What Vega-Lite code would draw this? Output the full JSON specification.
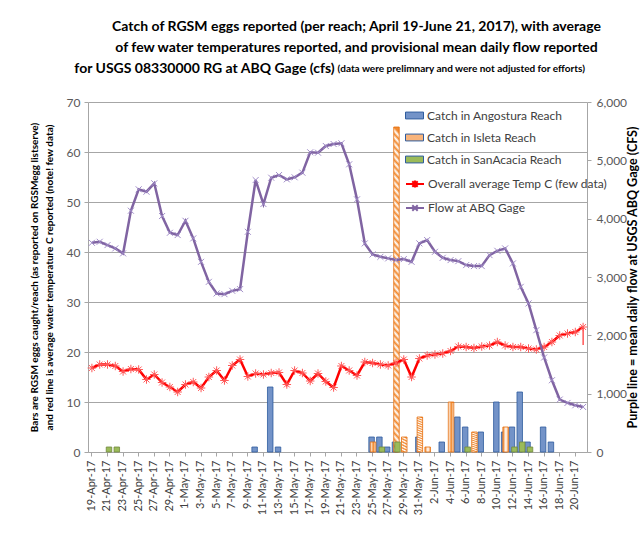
{
  "$schema": "https://vega.github.io/schema/vega-lite/v6.json",
  "width": 499,
  "height": 350,
  "autosize": {"type": "none"},
  "padding": {"left": 88, "top": 102, "right": 57, "bottom": 108},
  "background": "white",
  "config": {
    "view": {"stroke": null},
    "font": "Lato",
    "legend": {"labelFont": "Lato", "labelFontSize": 12, "labelColor": "#404040", "labelLimit": 300, "padding": 0}
  },
  "title": {
    "text": [
      "Catch of RGSM eggs reported (per reach; April 19-June 21, 2017), with average",
      "of few water temperatures reported, and provisional mean daily flow reported",
      "for USGS 08330000 RG at ABQ Gage (cfs)\u2003\u2003\u2003\u2003\u2003\u2003\u2003\u2003\u2003\u2003\u2003\u2003\u2003\u2003\u2003\u2003\u2003\u2003\u2003\u2003\u2003\u2003\u2003\u2003\u2003\u2003\u2003\u2003\u2800"
    ],
    "subtitle": "\u2800\u2003\u2003\u2003\u2003\u2003\u2003\u2003\u2003\u2003\u2003\u2003\u2003\u2003\u2003\u2003\u2003\u2003\u2003\u2003\u2003\u2003\u2003\u2003\u2003\u2003\u2003\u2003(data were prelimnary and were not adjusted for efforts)",
    "font": "Lato",
    "fontSize": 14,
    "fontWeight": "bold",
    "lineHeight": 21,
    "color": "#000000",
    "subtitleFont": "Lato",
    "subtitleFontSize": 10,
    "subtitleFontWeight": "bold",
    "subtitleColor": "#000000",
    "subtitlePadding": -12,
    "anchor": "middle",
    "dx": 19,
    "offset": 20
  },
  "datasets": {
    "bars": [
      {"date": "21-Apr-17", "reach": "SanAcacia", "eggs": 1},
      {"date": "22-Apr-17", "reach": "SanAcacia", "eggs": 1},
      {"date": "10-May-17", "reach": "Angostura", "eggs": 1},
      {"date": "12-May-17", "reach": "Angostura", "eggs": 13},
      {"date": "13-May-17", "reach": "Angostura", "eggs": 1},
      {"date": "25-May-17", "reach": "Angostura", "eggs": 3},
      {"date": "25-May-17", "reach": "Isleta", "eggs": 2},
      {"date": "26-May-17", "reach": "Angostura", "eggs": 3},
      {"date": "26-May-17", "reach": "SanAcacia", "eggs": 1},
      {"date": "27-May-17", "reach": "Angostura", "eggs": 1},
      {"date": "28-May-17", "reach": "Angostura", "eggs": 2},
      {"date": "28-May-17", "reach": "Isleta", "eggs": 65},
      {"date": "28-May-17", "reach": "SanAcacia", "eggs": 2},
      {"date": "29-May-17", "reach": "Isleta", "eggs": 3},
      {"date": "31-May-17", "reach": "Angostura", "eggs": 3},
      {"date": "31-May-17", "reach": "Isleta", "eggs": 7},
      {"date": "1-Jun-17", "reach": "Isleta", "eggs": 1},
      {"date": "3-Jun-17", "reach": "Angostura", "eggs": 2},
      {"date": "4-Jun-17", "reach": "Isleta", "eggs": 10},
      {"date": "5-Jun-17", "reach": "Angostura", "eggs": 7},
      {"date": "6-Jun-17", "reach": "Angostura", "eggs": 5},
      {"date": "6-Jun-17", "reach": "SanAcacia", "eggs": 1},
      {"date": "7-Jun-17", "reach": "Isleta", "eggs": 4},
      {"date": "8-Jun-17", "reach": "Angostura", "eggs": 4},
      {"date": "10-Jun-17", "reach": "Angostura", "eggs": 10},
      {"date": "11-Jun-17", "reach": "Angostura", "eggs": 4},
      {"date": "11-Jun-17", "reach": "Isleta", "eggs": 5},
      {"date": "12-Jun-17", "reach": "Angostura", "eggs": 5},
      {"date": "12-Jun-17", "reach": "SanAcacia", "eggs": 1},
      {"date": "13-Jun-17", "reach": "Angostura", "eggs": 12},
      {"date": "13-Jun-17", "reach": "SanAcacia", "eggs": 2},
      {"date": "14-Jun-17", "reach": "Angostura", "eggs": 2},
      {"date": "14-Jun-17", "reach": "SanAcacia", "eggs": 1},
      {"date": "16-Jun-17", "reach": "Angostura", "eggs": 5},
      {"date": "17-Jun-17", "reach": "Angostura", "eggs": 2}
    ],
    "tempRange": [
      {"date": "21-Jun-17", "low": 21.4, "high": 25.0}
    ],
    "daily": [
      {"date": "19-Apr-17", "tempC": 16.8, "flowCfs": 3586},
      {"date": "20-Apr-17", "tempC": 17.5, "flowCfs": 3604},
      {"date": "21-Apr-17", "tempC": 17.5, "flowCfs": 3547},
      {"date": "22-Apr-17", "tempC": 17.2, "flowCfs": 3490},
      {"date": "23-Apr-17", "tempC": 16.1, "flowCfs": 3405},
      {"date": "24-Apr-17", "tempC": 16.6, "flowCfs": 4136},
      {"date": "25-Apr-17", "tempC": 16.5, "flowCfs": 4503},
      {"date": "26-Apr-17", "tempC": 14.5, "flowCfs": 4462},
      {"date": "27-Apr-17", "tempC": 15.5, "flowCfs": 4606},
      {"date": "28-Apr-17", "tempC": 13.9, "flowCfs": 4045},
      {"date": "29-Apr-17", "tempC": 13.0, "flowCfs": 3758},
      {"date": "30-Apr-17", "tempC": 12.0, "flowCfs": 3719},
      {"date": "1-May-17", "tempC": 13.5, "flowCfs": 3964},
      {"date": "2-May-17", "tempC": 14.0, "flowCfs": 3662},
      {"date": "3-May-17", "tempC": 12.8, "flowCfs": 3260},
      {"date": "4-May-17", "tempC": 15.0, "flowCfs": 2917},
      {"date": "5-May-17", "tempC": 16.3, "flowCfs": 2718},
      {"date": "6-May-17", "tempC": 14.3, "flowCfs": 2706},
      {"date": "7-May-17", "tempC": 17.3, "flowCfs": 2763},
      {"date": "8-May-17", "tempC": 18.5, "flowCfs": 2792},
      {"date": "9-May-17", "tempC": 15.1, "flowCfs": 3775},
      {"date": "10-May-17", "tempC": 15.7, "flowCfs": 4662},
      {"date": "11-May-17", "tempC": 15.5, "flowCfs": 4251},
      {"date": "12-May-17", "tempC": 15.8, "flowCfs": 4702},
      {"date": "13-May-17", "tempC": 15.9, "flowCfs": 4748},
      {"date": "14-May-17", "tempC": 13.5, "flowCfs": 4674},
      {"date": "15-May-17", "tempC": 16.3, "flowCfs": 4709},
      {"date": "16-May-17", "tempC": 15.8, "flowCfs": 4788},
      {"date": "17-May-17", "tempC": 14.2, "flowCfs": 5138},
      {"date": "18-May-17", "tempC": 15.7, "flowCfs": 5131},
      {"date": "19-May-17", "tempC": 14.1, "flowCfs": 5246},
      {"date": "20-May-17", "tempC": 12.9, "flowCfs": 5280},
      {"date": "21-May-17", "tempC": 17.2, "flowCfs": 5292},
      {"date": "22-May-17", "tempC": 16.3, "flowCfs": 4932},
      {"date": "23-May-17", "tempC": 15.3, "flowCfs": 4331},
      {"date": "24-May-17", "tempC": 18.0, "flowCfs": 3576},
      {"date": "25-May-17", "tempC": 17.8, "flowCfs": 3387},
      {"date": "26-May-17", "tempC": 17.5, "flowCfs": 3346},
      {"date": "27-May-17", "tempC": 17.3, "flowCfs": 3319},
      {"date": "28-May-17", "tempC": 17.8, "flowCfs": 3290},
      {"date": "29-May-17", "tempC": 18.5, "flowCfs": 3307},
      {"date": "30-May-17", "tempC": 15.0, "flowCfs": 3260},
      {"date": "31-May-17", "tempC": 18.7, "flowCfs": 3576},
      {"date": "1-Jun-17", "tempC": 19.3, "flowCfs": 3633},
      {"date": "2-Jun-17", "tempC": 19.5, "flowCfs": 3432},
      {"date": "3-Jun-17", "tempC": 19.7, "flowCfs": 3329},
      {"date": "4-Jun-17", "tempC": 20.2, "flowCfs": 3290},
      {"date": "5-Jun-17", "tempC": 21.1, "flowCfs": 3272},
      {"date": "6-Jun-17", "tempC": 21.0, "flowCfs": 3204},
      {"date": "7-Jun-17", "tempC": 20.8, "flowCfs": 3187},
      {"date": "8-Jun-17", "tempC": 21.1, "flowCfs": 3187},
      {"date": "9-Jun-17", "tempC": 21.3, "flowCfs": 3375},
      {"date": "10-Jun-17", "tempC": 22.0, "flowCfs": 3449},
      {"date": "11-Jun-17", "tempC": 21.3, "flowCfs": 3490},
      {"date": "12-Jun-17", "tempC": 21.0, "flowCfs": 3233},
      {"date": "13-Jun-17", "tempC": 21.0, "flowCfs": 2831},
      {"date": "14-Jun-17", "tempC": 20.7, "flowCfs": 2547},
      {"date": "15-Jun-17", "tempC": 20.5, "flowCfs": 2088},
      {"date": "16-Jun-17", "tempC": 21.0, "flowCfs": 1620},
      {"date": "17-Jun-17", "tempC": 22.0, "flowCfs": 1230},
      {"date": "18-Jun-17", "tempC": 23.3, "flowCfs": 899},
      {"date": "19-Jun-17", "tempC": 23.7, "flowCfs": 841},
      {"date": "20-Jun-17", "tempC": 24.0, "flowCfs": 801},
      {"date": "21-Jun-17", "tempC": 25.0, "flowCfs": 772}
    ]
  },
  "encoding": {
    "x": {
      "field": "date",
      "type": "ordinal",
      "scale": {
        "domain": ["19-Apr-17","20-Apr-17","21-Apr-17","22-Apr-17","23-Apr-17","24-Apr-17","25-Apr-17","26-Apr-17","27-Apr-17","28-Apr-17","29-Apr-17","30-Apr-17","1-May-17","2-May-17","3-May-17","4-May-17","5-May-17","6-May-17","7-May-17","8-May-17","9-May-17","10-May-17","11-May-17","12-May-17","13-May-17","14-May-17","15-May-17","16-May-17","17-May-17","18-May-17","19-May-17","20-May-17","21-May-17","22-May-17","23-May-17","24-May-17","25-May-17","26-May-17","27-May-17","28-May-17","29-May-17","30-May-17","31-May-17","1-Jun-17","2-Jun-17","3-Jun-17","4-Jun-17","5-Jun-17","6-Jun-17","7-Jun-17","8-Jun-17","9-Jun-17","10-Jun-17","11-Jun-17","12-Jun-17","13-Jun-17","14-Jun-17","15-Jun-17","16-Jun-17","17-Jun-17","18-Jun-17","19-Jun-17","20-Jun-17","21-Jun-17"],
        "paddingInner": 0,
        "paddingOuter": 0
      },
      "axis": {
        "values": ["19-Apr-17","21-Apr-17","23-Apr-17","25-Apr-17","27-Apr-17","29-Apr-17","1-May-17","3-May-17","5-May-17","7-May-17","9-May-17","11-May-17","13-May-17","15-May-17","17-May-17","19-May-17","21-May-17","23-May-17","25-May-17","27-May-17","29-May-17","31-May-17","2-Jun-17","4-Jun-17","6-Jun-17","8-Jun-17","10-Jun-17","12-Jun-17","14-Jun-17","16-Jun-17","18-Jun-17","20-Jun-17"],
        "title": null,
        "labelAngle": 270,
        "labelAlign": "right",
        "labelBaseline": "middle",
        "labelFont": "Lato",
        "labelFontSize": 11,
        "labelColor": "#404040",
        "labelPadding": 4,
        "tickSize": 4,
        "tickColor": "#A6A6A6",
        "domainColor": "#A6A6A6",
        "grid": false
      }
    }
  },
  "layer": [
    {
      "layer": [
        {
          "data": {"name": "bars"},
          "encoding": {
            "y": {
              "field": "eggs",
              "type": "quantitative",
              "scale": {"domain": [0, 70]},
              "title": ["Bars are RGSM eggs caught/reach (as reported on RGSMegg listserve)", "and red line is average water temperature C reported (note! few data)"],
              "axis": {
                "values": [0, 5, 10, 15, 20, 25, 30, 35, 40, 45, 50, 55, 60, 65, 70],
                "titleFont": "Lato",
                "titleFontSize": 10,
                "titleFontWeight": "bold",
                "titleColor": "#000000",
                "titleLineHeight": 15,
                "titlePadding": 12,
                "labelFont": "Lato",
                "labelFontSize": 12,
                "labelColor": "#595959",
                "labelPadding": 4,
                "tickSize": 4,
                "tickColor": "#A6A6A6",
                "domainColor": "#A6A6A6",
                "grid": true,
                "gridColor": "#A6A6A6"
              }
            }
          },
          "layer": [
            {
              "transform": [{"filter": "datum.reach === 'Angostura'"}],
              "mark": {"type": "bar", "width": 5.5, "xOffset": -1, "stroke": "#2E5C9E", "strokeWidth": 0.8},
              "encoding": {
                "fill": {
                  "field": "reach",
                  "type": "nominal",
                  "scale": {"domain": ["Angostura", "Isleta", "SanAcacia"], "range": ["#7393C8", "#F8B47C", "#9BBB59"]},
                  "legend": {
                    "orient": "none",
                    "legendX": 317,
                    "legendY": 4,
                    "title": null,
                    "symbolType": "M-1,-0.38H1V0.38H-1Z",
                    "symbolSize": 324,
                    "symbolStrokeWidth": 1,
                    "rowPadding": 6,
                    "labelOffset": 3,
                    "labelExpr": "'Catch in ' + datum.label + ' Reach'",
                    "encode": {
                      "symbols": {
                        "update": {
                          "stroke": {"signal": "datum.value === 'Angostura' ? '#2E5C9E' : datum.value === 'Isleta' ? '#E46C0A' : '#71893F'"},
                          "opacity": {"value": 1}
                        }
                      }
                    }
                  }
                }
              }
            },
            {
              "transform": [{"filter": "datum.reach === 'Isleta'"}],
              "mark": {
                "type": "bar", "width": 5.5, "xOffset": 0.5, "stroke": "#E46C0A", "strokeWidth": 0.8,
                "fill": {"gradient": "linear", "x1": 0, "y1": 1, "x2": 0.0185, "y2": 0, "stops": [
                  {"offset": 0, "color": "#F28A30"},{"offset": 0.01, "color": "#FFFFFF"},{"offset": 0.02, "color": "#F28A30"},{"offset": 0.03, "color": "#FFFFFF"},{"offset": 0.04, "color": "#F28A30"},{"offset": 0.05, "color": "#FFFFFF"},{"offset": 0.06, "color": "#F28A30"},{"offset": 0.07, "color": "#FFFFFF"},{"offset": 0.08, "color": "#F28A30"},{"offset": 0.09, "color": "#FFFFFF"},
                  {"offset": 0.10, "color": "#F28A30"},{"offset": 0.11, "color": "#FFFFFF"},{"offset": 0.12, "color": "#F28A30"},{"offset": 0.13, "color": "#FFFFFF"},{"offset": 0.14, "color": "#F28A30"},{"offset": 0.15, "color": "#FFFFFF"},{"offset": 0.16, "color": "#F28A30"},{"offset": 0.17, "color": "#FFFFFF"},{"offset": 0.18, "color": "#F28A30"},{"offset": 0.19, "color": "#FFFFFF"},
                  {"offset": 0.20, "color": "#F28A30"},{"offset": 0.21, "color": "#FFFFFF"},{"offset": 0.22, "color": "#F28A30"},{"offset": 0.23, "color": "#FFFFFF"},{"offset": 0.24, "color": "#F28A30"},{"offset": 0.25, "color": "#FFFFFF"},{"offset": 0.26, "color": "#F28A30"},{"offset": 0.27, "color": "#FFFFFF"},{"offset": 0.28, "color": "#F28A30"},{"offset": 0.29, "color": "#FFFFFF"},
                  {"offset": 0.30, "color": "#F28A30"},{"offset": 0.31, "color": "#FFFFFF"},{"offset": 0.32, "color": "#F28A30"},{"offset": 0.33, "color": "#FFFFFF"},{"offset": 0.34, "color": "#F28A30"},{"offset": 0.35, "color": "#FFFFFF"},{"offset": 0.36, "color": "#F28A30"},{"offset": 0.37, "color": "#FFFFFF"},{"offset": 0.38, "color": "#F28A30"},{"offset": 0.39, "color": "#FFFFFF"},
                  {"offset": 0.40, "color": "#F28A30"},{"offset": 0.41, "color": "#FFFFFF"},{"offset": 0.42, "color": "#F28A30"},{"offset": 0.43, "color": "#FFFFFF"},{"offset": 0.44, "color": "#F28A30"},{"offset": 0.45, "color": "#FFFFFF"},{"offset": 0.46, "color": "#F28A30"},{"offset": 0.47, "color": "#FFFFFF"},{"offset": 0.48, "color": "#F28A30"},{"offset": 0.49, "color": "#FFFFFF"},
                  {"offset": 0.50, "color": "#F28A30"},{"offset": 0.51, "color": "#FFFFFF"},{"offset": 0.52, "color": "#F28A30"},{"offset": 0.53, "color": "#FFFFFF"},{"offset": 0.54, "color": "#F28A30"},{"offset": 0.55, "color": "#FFFFFF"},{"offset": 0.56, "color": "#F28A30"},{"offset": 0.57, "color": "#FFFFFF"},{"offset": 0.58, "color": "#F28A30"},{"offset": 0.59, "color": "#FFFFFF"},
                  {"offset": 0.60, "color": "#F28A30"},{"offset": 0.61, "color": "#FFFFFF"},{"offset": 0.62, "color": "#F28A30"},{"offset": 0.63, "color": "#FFFFFF"},{"offset": 0.64, "color": "#F28A30"},{"offset": 0.65, "color": "#FFFFFF"},{"offset": 0.66, "color": "#F28A30"},{"offset": 0.67, "color": "#FFFFFF"},{"offset": 0.68, "color": "#F28A30"},{"offset": 0.69, "color": "#FFFFFF"},
                  {"offset": 0.70, "color": "#F28A30"},{"offset": 0.71, "color": "#FFFFFF"},{"offset": 0.72, "color": "#F28A30"},{"offset": 0.73, "color": "#FFFFFF"},{"offset": 0.74, "color": "#F28A30"},{"offset": 0.75, "color": "#FFFFFF"},{"offset": 0.76, "color": "#F28A30"},{"offset": 0.77, "color": "#FFFFFF"},{"offset": 0.78, "color": "#F28A30"},{"offset": 0.79, "color": "#FFFFFF"},
                  {"offset": 0.80, "color": "#F28A30"},{"offset": 0.81, "color": "#FFFFFF"},{"offset": 0.82, "color": "#F28A30"},{"offset": 0.83, "color": "#FFFFFF"},{"offset": 0.84, "color": "#F28A30"},{"offset": 0.85, "color": "#FFFFFF"},{"offset": 0.86, "color": "#F28A30"},{"offset": 0.87, "color": "#FFFFFF"},{"offset": 0.88, "color": "#F28A30"},{"offset": 0.89, "color": "#FFFFFF"},
                  {"offset": 0.90, "color": "#F28A30"},{"offset": 0.91, "color": "#FFFFFF"},{"offset": 0.92, "color": "#F28A30"},{"offset": 0.93, "color": "#FFFFFF"},{"offset": 0.94, "color": "#F28A30"},{"offset": 0.95, "color": "#FFFFFF"},{"offset": 0.96, "color": "#F28A30"},{"offset": 0.97, "color": "#FFFFFF"},{"offset": 0.98, "color": "#F28A30"},{"offset": 0.99, "color": "#FFFFFF"},
                  {"offset": 1, "color": "#F28A30"}
                ]}
              }
            },
            {
              "transform": [{"filter": "datum.reach === 'SanAcacia'"}],
              "mark": {"type": "bar", "width": 5.5, "xOffset": 1.5, "stroke": "#71893F", "strokeWidth": 0.8},
              "encoding": {
                "fill": {"field": "reach", "type": "nominal"}
              }
            }
          ]
        },
        {
          "data": {"name": "tempRange"},
          "mark": {"type": "rule", "stroke": "#FF0000", "strokeWidth": 1},
          "encoding": {
            "y": {"field": "low", "type": "quantitative", "scale": {"domain": [0, 70]}},
            "y2": {"field": "high"}
          }
        },
        {
          "data": {"name": "daily"},
          "mark": {"type": "line", "strokeWidth": 2.5},
          "encoding": {
            "y": {"field": "tempC", "type": "quantitative", "scale": {"domain": [0, 70]}},
            "stroke": {
              "datum": "Overall average Temp C (few data)",
              "scale": {"domain": ["Overall average Temp C (few data)", "Flow at ABQ Gage"], "range": ["#FF0000", "#8064A2"]},
              "legend": {
                "orient": "none",
                "legendX": 317,
                "legendY": 72,
                "title": null,
                "symbolSize": 324,
                "symbolStrokeWidth": 2,
                "rowPadding": 6,
                "labelOffset": 3,
                "encode": {
                  "symbols": {
                    "update": {
                      "shape": {"signal": "datum.value === 'Flow at ABQ Gage' ? 'M-1,0H1M-0.3,-0.3L0.3,0.3M-0.3,0.3L0.3,-0.3' : 'M-1,0H1M-0.3,-0.3L0.3,0.3M-0.3,0.3L0.3,-0.3M0,-0.4V0.4'"},
                      "fill": {"value": "transparent"},
                      "strokeWidth": {"value": 2}
                    }
                  }
                }
              }
            }
          }
        },
        {
          "data": {"name": "daily"},
          "mark": {"type": "point", "shape": "M-1,0L1,0M0,-1L0,1M-0.7,-0.7L0.7,0.7M-0.7,0.7L0.7,-0.7", "size": 72, "filled": false, "stroke": "#FF5A5A", "strokeWidth": 1, "opacity": 1},
          "encoding": {
            "y": {"field": "tempC", "type": "quantitative", "scale": {"domain": [0, 70]}}
          }
        }
      ]
    },
    {
      "layer": [
        {
          "data": {"name": "daily"},
          "mark": {"type": "line", "strokeWidth": 2.5},
          "encoding": {
            "y": {
              "field": "flowCfs",
              "type": "quantitative",
              "scale": {"domain": [0, 6000]},
              "title": "Purple line = mean daily flow at USGS ABQ Gage (CFS)",
              "axis": {
                "orient": "right",
                "values": [0, 1000, 2000, 3000, 4000, 5000, 6000],
                "labelExpr": "format(datum.value, ',')",
                "titleFont": "Lato",
                "titleFontSize": 12.5,
                "titleFontWeight": "bold",
                "titleColor": "#000000",
                "titleAngle": 270,
                "titleBaseline": "top",
                "titlePadding": 0,
                "labelFont": "Lato",
                "labelFontSize": 12,
                "labelColor": "#595959",
                "labelPadding": 5,
                "tickSize": 4,
                "tickColor": "#A6A6A6",
                "domainColor": "#A6A6A6",
                "grid": false
              }
            },
            "stroke": {"datum": "Flow at ABQ Gage"}
          }
        },
        {
          "data": {"name": "daily"},
          "mark": {"type": "point", "shape": "M-1,-1L1,1M-1,1L1,-1", "size": 36, "filled": false, "stroke": "#A08CC8", "strokeWidth": 1, "opacity": 1},
          "encoding": {
            "y": {"field": "flowCfs", "type": "quantitative", "scale": {"domain": [0, 6000]}}
          }
        }
      ]
    }
  ],
  "resolve": {"scale": {"y": "independent"}}
}
